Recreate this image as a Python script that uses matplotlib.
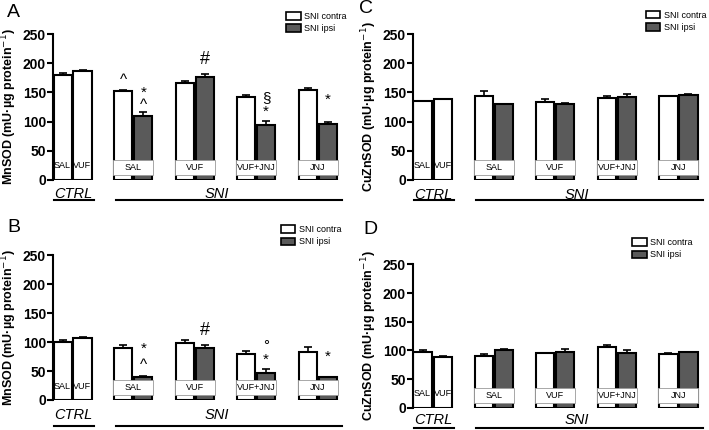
import matplotlib
matplotlib.use("Agg")
import matplotlib.pyplot as plt
from matplotlib.patches import Patch, Rectangle

plt.rcParams["font.family"] = ["Liberation Sans", "DejaVu Sans"]

groups = ["SAL", "VUF", "VUF+JNJ", "JNJ"]
ctrl_labels = ["SAL", "VUF"]

# panel A: MnSOD
a_ctrl = [180, 186]
a_ctrl_err = [4, 3]
a_contra = [152, 166, 142, 154]
a_contra_err = [2, 3, 3, 4]
a_ipsi = [110, 177, 94, 96]
a_ipsi_err = [6, 5, 7, 3]
a_marks = [("^", 0, "contra", 171), ("*", 0, "ipsi", 150), ("^", 0, "ipsi", 128),
           ("#", 1, "ipsi", 207), ("\u00a7", 2, "ipsi", 140), ("*", 2, "ipsi", 116),
           ("*", 3, "ipsi", 138)]

# panel B: MnSOD
b_ctrl = [100, 107]
b_ctrl_err = [3, 1]
b_contra = [90, 98, 79, 82]
b_contra_err = [5, 6, 6, 9]
b_ipsi = [40, 90, 47, 39]
b_ipsi_err = [2, 4, 6, 1]
b_marks = [("*", 0, "ipsi", 88), ("^", 0, "ipsi", 61), ("#", 1, "ipsi", 120),
           ("\u00b0", 2, "ipsi", 93), ("*", 2, "ipsi", 70), ("*", 3, "ipsi", 74)]

# panel C: CuZnSOD
c_ctrl = [136, 139]
c_ctrl_err = [0, 0]
c_contra = [144, 134, 141, 143]
c_contra_err = [8, 5, 2, 1]
c_ipsi = [130, 130, 142, 145]
c_ipsi_err = [0, 2, 5, 2]

# panel D: CuZnSOD
d_ctrl = [98, 89]
d_ctrl_err = [2, 1]
d_contra = [91, 96, 106, 93]
d_contra_err = [3, 0, 3, 3]
d_ipsi = [100, 98, 95, 97]
d_ipsi_err = [2, 4, 5, 1]

dark = "#5a5a5a"
bw = 0.95
ctrl_x = [0.5, 1.55]
contra_x = [3.7, 6.93, 10.16, 13.39]
ipsi_x = [x + 1.05 for x in contra_x]


def panel(ax, ctrl, ctrl_err, contra, contra_err, ipsi, ipsi_err, ylabel,
          text_y, line_y, marks=()):
    kw = dict(width=bw, edgecolor="black", linewidth=1.5, zorder=2,
              error_kw=dict(elinewidth=1.2, capthick=1.2, ecolor="black"), capsize=3)
    ax.bar(ctrl_x, ctrl, yerr=[[0] * 2, ctrl_err], color="white", **kw)
    ax.bar(contra_x, contra, yerr=[[0] * 4, contra_err], color="white", **kw)
    ax.bar(ipsi_x, ipsi, yerr=[[0] * 4, ipsi_err], color=dark, **kw)
    for x, lab in zip(ctrl_x, ctrl_labels):
        ax.text(x, 24, lab, ha="center", va="center", fontsize=6.5, zorder=5)
    for x0, x1, lab in zip(contra_x, ipsi_x, groups):
        ax.add_patch(Rectangle((x0 - bw / 2 - 0.05, 8), x1 - x0 + bw + 0.1, 27,
                               facecolor="white", edgecolor="#9a9a9a", lw=0.6, zorder=4))
        ax.text((x0 + x1) / 2, 21, lab, ha="center", va="center", fontsize=6.5, zorder=5)
    for sym, gi, side, y in marks:
        x = contra_x[gi] if side == "contra" else ipsi_x[gi]
        fs = 13 if sym == "#" else 11
        ax.text(x, y, sym, ha="center", va="center", fontsize=fs, zorder=5)
    ax.set_xlim(0, 15.2)
    ax.set_ylim(0, 250)
    ax.set_yticks([0, 50, 100, 150, 200, 250])
    ax.tick_params(axis="y", width=1.5, length=4, labelsize=10, pad=1)
    for t in ax.get_yticklabels():
        t.set_fontweight("bold")
    ax.set_xticks([])
    for s in ["top", "right", "bottom"]:
        ax.spines[s].set_visible(False)
    ax.spines["left"].set_linewidth(1.5)
    ax.set_ylabel(ylabel, fontsize=9, fontweight="bold", labelpad=3)
    ax.text(1.05, text_y, "CTRL", ha="center", va="top", fontsize=10.5,
            style="italic", clip_on=False)
    ax.text(8.6, text_y, "SNI", ha="center", va="top", fontsize=10.5,
            style="italic", clip_on=False)
    ax.plot([0.05, 2.16], [line_y, line_y], color="black", lw=1.5, clip_on=False)
    ax.plot([3.3, 15.2], [line_y, line_y], color="black", lw=1.5, clip_on=False)


fig = plt.figure(figsize=(7.09, 4.30), dpi=100)
ax_a = fig.add_axes([0.0748, 0.5814, 0.4076, 0.3395])
ax_c = fig.add_axes([0.5825, 0.5814, 0.409, 0.3395])
ax_b = fig.add_axes([0.0748, 0.0698, 0.4076, 0.337])
ax_d = fig.add_axes([0.5825, 0.052, 0.409, 0.333])

mn = "MnSOD (mU\u00b7\u00b5g protein$^{-1}$)"
cu = "CuZnSOD (mU\u00b7\u00b5g protein$^{-1}$)"
panel(ax_a, a_ctrl, a_ctrl_err, a_contra, a_contra_err, a_ipsi, a_ipsi_err, mn, -12, -34, a_marks)
panel(ax_b, b_ctrl, b_ctrl_err, b_contra, b_contra_err, b_ipsi, b_ipsi_err, mn, -14, -45, b_marks)
panel(ax_c, c_ctrl, c_ctrl_err, c_contra, c_contra_err, c_ipsi, c_ipsi_err, cu, -14, -34)
panel(ax_d, d_ctrl, d_ctrl_err, d_contra, d_contra_err, d_ipsi, d_ipsi_err, cu, -9, -35)

handles = [Patch(facecolor="white", edgecolor="black", lw=1.2, label="SNI contra"),
           Patch(facecolor=dark, edgecolor="black", lw=1.2, label="SNI ipsi")]
for pos in [(0.404, 0.972), (0.911, 0.975), (0.396, 0.476), (0.892, 0.446)]:
    fig.legend(handles=handles, loc="upper left", bbox_to_anchor=pos, frameon=False,
               fontsize=6.5, handlelength=1.6, handleheight=0.9, handletextpad=0.4,
               borderpad=0, borderaxespad=0, labelspacing=0.35)

for lab, x, y in [("A", 0.010, 0.972), ("C", 0.506, 0.981), ("B", 0.010, 0.472), ("D", 0.512, 0.467)]:
    fig.text(x, y, lab, fontsize=14, ha="left", va="center")

fig.savefig("out.png", dpi=100)
